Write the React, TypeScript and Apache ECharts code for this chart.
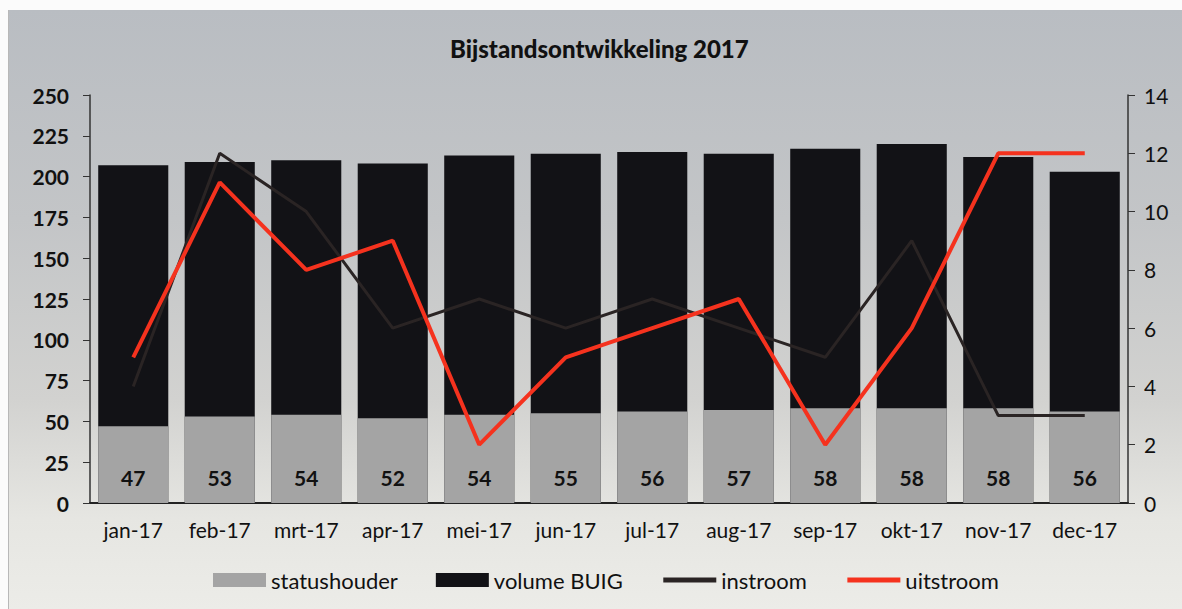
import React, { useEffect, useRef } from "react";
import * as echarts from "echarts";

const categories = ["jan-17", "feb-17", "mrt-17", "apr-17", "mei-17", "jun-17", "jul-17", "aug-17", "sep-17", "okt-17", "nov-17", "dec-17"];
const statushouder = [47, 53, 54, 52, 54, 55, 56, 57, 58, 58, 58, 56];
const volumeBUIG = [207, 209, 210, 208, 213, 214, 215, 214, 217, 220, 212, 203];
const instroom = [4, 12, 10, 6, 7, 6, 7, 6, 5, 9, 3, 3];
const uitstroom = [5, 11, 8, 9, 2, 5, 6, 7, 2, 6, 12, 12];
const leftTicks = { min: 0, max: 250, interval: 25 };
const rightTicks = { min: 0, max: 14, interval: 2 };

const FONT = "Lato, 'Open Sans', sans-serif";

export default function App() {
  const ref = useRef<HTMLDivElement>(null);
  useEffect(() => {
    if (!ref.current) return;
    const chart = echarts.init(ref.current, null, { renderer: "svg" });
    chart.setOption({
      animation: false,
      backgroundColor: "transparent",
      textStyle: { fontFamily: FONT },
      title: {
        text: "Bijstandsontwikkeling 2017",
        left: 436,
        top: 21,
        textStyle: { fontFamily: FONT, fontSize: 24, fontWeight: 900, color: "#111" },
      },
      legend: {
        bottom: 13,
        left: 199,
        itemWidth: 53,
        itemHeight: 14,
        itemGap: 38,
        textStyle: { fontFamily: FONT, fontSize: 22, color: "#111", padding: [0, 0, 0, 0] },
        data: [
          { name: "statushouder", icon: "rect" },
          { name: "volume BUIG", icon: "rect" },
          { name: "instroom", itemStyle: { opacity: 0 }, lineStyle: { width: 5 } },
          { name: "uitstroom", itemStyle: { opacity: 0 }, lineStyle: { width: 5 } },
        ],
      },
      grid: { left: 81, right: 54, top: 85, bottom: 106, containLabel: false },
      xAxis: {
        type: "category",
        data: categories,
        axisLine: { lineStyle: { color: "#222", width: 2 } },
        axisTick: { show: false },
        axisLabel: { fontFamily: FONT, fontSize: 21, color: "#111", margin: 16 },
      },
      yAxis: [
        {
          type: "value",
          min: leftTicks.min,
          max: leftTicks.max,
          interval: leftTicks.interval,
          axisLine: { show: true, lineStyle: { color: "#333", width: 1.5 } },
          axisTick: { show: true, length: 7, lineStyle: { color: "#333" } },
          splitLine: { show: false },
          axisLabel: { fontFamily: FONT, fontSize: 21, fontWeight: "bold", color: "#111", margin: 21 },
        },
        {
          type: "value",
          min: rightTicks.min,
          max: rightTicks.max,
          interval: rightTicks.interval,
          position: "right",
          axisLine: { show: true, lineStyle: { color: "#333", width: 1.5 } },
          axisTick: { show: true, length: 7, lineStyle: { color: "#333" } },
          splitLine: { show: false },
          axisLabel: { fontFamily: FONT, fontSize: 21, color: "#111", margin: 16 },
        },
      ],
      series: [
        {
          name: "volume BUIG",
          type: "bar",
          data: volumeBUIG,
          barCategoryGap: "19%",
          barGap: "-100%",
          itemStyle: { color: "#121216" },
          z: 2,
        },
        {
          name: "statushouder",
          type: "bar",
          data: statushouder,
          barCategoryGap: "19%",
          barGap: "-100%",
          itemStyle: { color: "#a4a4a4" },
          label: {
            show: true,
            position: "insideBottom",
            distance: 15,
            fontFamily: FONT,
            fontSize: 21,
            fontWeight: "bold",
            color: "#111",
          },
          z: 3,
        },
        {
          name: "instroom",
          type: "line",
          yAxisIndex: 1,
          data: instroom,
          showSymbol: false,
          symbol: "none",
          lineStyle: { color: "#2a2424", width: 3 },
          itemStyle: { color: "#2a2424" },
          z: 4,
        },
        {
          name: "uitstroom",
          type: "line",
          yAxisIndex: 1,
          data: uitstroom,
          showSymbol: false,
          symbol: "none",
          lineStyle: { color: "#f5321e", width: 4 },
          itemStyle: { color: "#f5321e" },
          z: 5,
        },
      ],
    });
    return () => chart.dispose();
  }, []);

  return (
    <div style={{ position: "fixed", left: 0, top: 0, width: 1182, height: 609, background: "#fbfbfb" }}>
      <div
        style={{
          position: "absolute",
          left: 8,
          top: 10,
          width: 1174,
          height: 599,
          borderLeft: "1px solid #b8b8b8",
          background: "linear-gradient(to bottom, #b9bdc2 0%, #c3c5c7 35%, #d2d2d0 65%, #e6e6e2 85%, #ececE8 100%)",
        }}
      >
        <div ref={ref} style={{ position: "absolute", left: 0, top: 0, width: 1173, height: 599 }} />
      </div>
    </div>
  );
}
